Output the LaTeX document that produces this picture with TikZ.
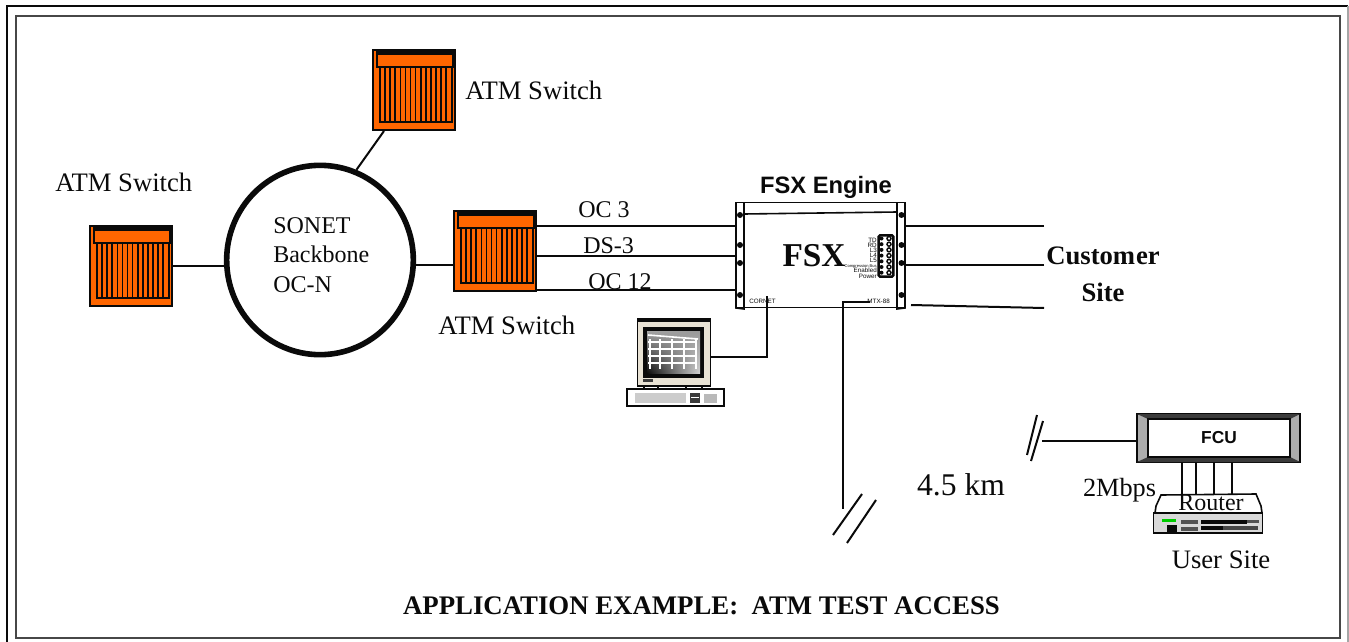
\documentclass[tikz,border=0pt]{standalone}
\usepackage{fontspec}
\usetikzlibrary{shapes.geometric,shadings}
\setmainfont{Liberation Serif}
\setsansfont{Liberation Sans}
\definecolor{ink}{RGB}{10,10,10}
\definecolor{switchorange}{RGB}{255,102,0}
\definecolor{bezel}{RGB}{232,226,212}
\tikzset{
  lbl/.style={inner sep=0pt, text=ink, font=\fontsize{20}{24}\selectfont},
  lblsmall/.style={inner sep=0pt, text=ink, font=\fontsize{18}{22}\selectfont},
  tiny/.style={inner sep=0pt, anchor=east, text=ink, font=\sffamily\fontsize{4.7}{5}\selectfont},
  wire/.style={ink, line width=1.5pt},
  switchbox/.style={draw=ink, fill=switchorange, line width=1.5pt, minimum width=61.5pt, minimum height=60pt, inner sep=0pt},
}
\begin{document}
\begin{tikzpicture}[x=0.75pt, y=-0.75pt]
  \useasboundingbox (0,0) rectangle (1349,642);
  % frames
  \draw[ink, line width=1pt] (7,642)--(7,6)--(1348,6);
  \draw[gray!70, line width=1pt] (1348,6)--(1348,642);
  \node[draw=ink!75, line width=1.2pt, minimum width=993pt, minimum height=466.5pt, inner sep=0pt] (frame) at (678,327) {};
  % 3 switches
  \foreach \name/\cx/\cy in {swtop/414/90, swleft/131/266, swmid/495/251}{
    \node[switchbox] (\name) at (\cx,\cy) {};
    \begin{scope}[shift={(\cx-41,\cy-40)}]
      \draw[ink, line width=1.4pt] (4,2) rectangle (80,17);
      \fill[ink] (5,2) rectangle (79,5);
      \draw[ink, line width=1.4pt] (7,17) rectangle (79,72);
      \foreach \k in {0,1,2,3,4,5,6,7,8,9,10,11,12}{
        \draw[ink, line width=1.2pt] (12+\k*5.1,17) -- (12+\k*5.1,72);
      }
    \end{scope}
  }
  % backbone
  \node[draw=ink, line width=4.2pt, ellipse, minimum width=140pt, minimum height=142pt, inner sep=0pt] (ring) at (320,260) {};
  \node[lblsmall, anchor=west, align=left, font=\fontsize{18}{22.2}\selectfont] (sonet) at (273,255) {SONET\\Backbone\\OC-N};
  \draw[wire] (swtop.south west) ++(12,0) coordinate (swtopfoot) -- (ring.68);
  \draw[wire] (swleft.east) -- (ring.west |- swleft.east);
  \draw[wire] (ring.east |- 0,265) -- (swmid.west |- 0,265);
  \node[lbl, anchor=west] (toplbl) at (465,90) {ATM Switch};
  \node[lbl, anchor=west] (leftlbl) at (55,182) {ATM Switch};
  \node[lbl, anchor=west] (midlbl) at (438,325) {ATM Switch};
  % FSX chassis
  \node[draw=ink, line width=1.2pt, fill=white, minimum width=127.5pt, minimum height=79pt, inner sep=0pt] (fsx) at (820.5,255) {};
  \draw[ink, line width=1.2pt] (744,202)--(744,309)--(736,308)--(736,202);
  \draw[ink, line width=1.2pt] (897,202)--(897,309)--(905,308)--(905,202);
  \draw[ink, line width=1.2pt] (744,214)--(897,212);
  \foreach \yy in {215,245,263,295}{
    \fill[ink] (740,\yy) circle (3);
    \fill[ink] (901.5,\yy) circle (3);
  }
  \node[inner sep=0pt, text=ink, font=\sffamily\bfseries\fontsize{17.8}{20}\selectfont] (fsxtitle) at (826,187) {FSX Engine};
  \node[inner sep=0pt, text=ink, font=\bfseries\fontsize{25}{28}\selectfont] (fsxname) at (814,256) {FSX};
  % indicator panel
  \node[draw=ink, line width=1.8pt, rounded corners=1pt, minimum width=11pt, minimum height=31pt, inner sep=0pt] (panel) at (886,256) {};
  \foreach \k in {0,1,2,3,4,5,6}{
    \fill[ink] (881.5,238.5+\k*5.7) circle (2);
    \draw[ink, line width=1.1pt] (889,238.5+\k*5.7) circle (2);
  }
  \foreach \t/\yy in {TD/240, RD/245, L3/250, L4/255, L5/260, Enabled/270.5, Power/276}{
    \node[tiny] at (877,\yy) {\t};
  }
  \node[tiny, font=\sffamily\fontsize{3.05}{4}\selectfont] (compbus) at (877,266) {Compression Bus};
  \node[tiny, anchor=west] (cornet) at (749,301.5) {CORNET};
  \node[tiny, anchor=east] (mtx) at (890,301.5) {MTX-88};
  % links OC / DS
  \foreach \name/\yy in {fsxa/226, fsxb/256, fsxc/290}{
    \coordinate (\name) at (736,\yy);
    \draw[wire] (swmid.east |- \name) -- (\name);
  }
  \node[lblsmall, anchor=west] (oc3) at (578,210) {OC 3};
  \node[lblsmall, anchor=west] (ds3) at (583,246) {DS-3};
  \node[lblsmall, anchor=west] (oc12) at (588,282) {OC 12};
  % customer side
  \coordinate (custa) at (1044,226);
  \coordinate (custb) at (1044,265);
  \coordinate (custc) at (1044,308);
  \coordinate (fsxd) at (911,305);
  \draw[wire] (custa) -- (905,226);
  \draw[wire] (custb) -- (905,265);
  \draw[wire] (custc) -- (fsxd);
  \node[inner sep=0pt, text=ink, align=center, font=\bfseries\fontsize{20}{27.5}\selectfont] (customer) at (1103,274) {Custom\hspace{0.6pt}er\\Site};
  % computer
  \node[draw=ink, line width=1.2pt, fill=bezel, minimum width=55pt, minimum height=50pt, inner sep=0pt] (monitor) at (674,352.5) {};
  \fill[ink] (637,319) rectangle (711,321.5);
  \fill[ink] (643,327) rectangle (704,378);
  \shade[upper left=gray!70, lower left=ink, upper right=gray!80, lower right=gray!35] (647,331) rectangle (700,373);
  \draw[white, line width=1.2pt] (648,335) -- (698,339);
  \foreach \yy in {342,349,356,363}{
    \draw[white, line width=0.9pt] (648,\yy) -- (697,\yy);
  }
  \foreach \xx in {650,660,672,684,696}{
    \draw[white, line width=0.9pt] (\xx,339) -- (\xx,369);
  }
  \fill[ink!80] (643,379) rectangle (653,382);
  \draw[ink, line width=1.4pt] (644,385) -- (644,389) (658,385) -- (658,389) (686,385) -- (686,389) (702,385) -- (702,389);
  \node[draw=ink, line width=1.2pt, fill=white, minimum width=73pt, minimum height=13pt, inner sep=0pt] (keyboard) at (675.5,397.5) {};
  \fill[gray!40] (635,393) rectangle (686,403);
  \fill[ink!80] (690,393) rectangle (700,403);
  \fill[white] (691,396.5) rectangle (699,398);
  \fill[gray!55] (704,394) rectangle (717,403);
  \draw[wire] (monitor.east |- 0,357) -| (767,296);
  % lead out to the slashes
  \draw[wire] (870,302) -| (843,509);
  \coordinate (brka) at (833,535);
  \coordinate (brkb) at (862,494);
  \coordinate (brkc) at (847,543);
  \coordinate (brkd) at (876,500);
  \draw[wire] (brka) -- (brkb);
  \draw[wire] (brkc) -- (brkd);
  \node[inner sep=0pt, text=ink, font=\fontsize{23.7}{28}\selectfont] (dist) at (961,485) {4.5 km};
  % FCU
  \node[draw=ink, line width=1.2pt, fill=gray!65, minimum width=122pt, minimum height=36pt, inner sep=0pt] (fcuframe) at (1218.5,438) {};
  \fill[ink!80] (1137,414) -- (1300,414) -- (1290,419) -- (1148,419) -- cycle;
  \fill[ink!80] (1137,462) -- (1300,462) -- (1290,457) -- (1148,457) -- cycle;
  \node[draw=ink, line width=1.2pt, fill=white, minimum width=106.5pt, minimum height=28.5pt, inner sep=0pt, font=\sffamily\bfseries\fontsize{13}{15}\selectfont, text=ink] (fcu) at (1219,438) {FCU};
  \coordinate (fculine) at (1042,441);
  \draw[wire] (fculine) -- (fculine -| fcuframe.west);
  \coordinate (slsa) at (1027,455);
  \coordinate (slsb) at (1037,415);
  \coordinate (slsc) at (1031,461);
  \coordinate (slsd) at (1043,421);
  \draw[wire] (slsa) -- (slsb);
  \draw[wire] (slsc) -- (slsd);
  % router
  \node[draw=ink, line width=1.2pt, fill=gray!30, minimum width=81.5pt, minimum height=15pt, inner sep=0pt] (routerbox) at (1208,523) {};
  \draw[ink, line width=1.2pt] (1155,513)--(1156,506)--(1161,495)--(1256,494)--(1261,506)--(1262,513);
  \fill[green!80!black] (1162,519) rectangle (1176,522);
  \fill[ink] (1167,525) rectangle (1177,532);
  \fill[ink!70] (1181,520) rectangle (1198,523.5);
  \fill[ink!70] (1181,526.5) rectangle (1198,531);
  \fill[ink] (1201,519.5) rectangle (1247,524);
  \fill[ink!70] (1247,520) rectangle (1259,523);
  \fill[ink] (1201,526) rectangle (1223,530);
  \fill[ink!75] (1223,526) rectangle (1258,530);
  \foreach \xx in {1182,1196,1214,1232}{
    \draw[ink, line width=1pt] (\xx,462) -- (\xx,495);
  }
  \node[lblsmall] (router) at (1211,503) {Router};
  \node[inner sep=0pt, text=ink, font=\fontsize{19.7}{24}\selectfont] (rate) at (1119.5,490) {2Mbps};
  \node[lbl] (usersite) at (1221,560) {User Site};
  % title
  \node[inner sep=0pt, text=ink, font=\bfseries\fontsize{20.1}{24}\selectfont] (title) at (701.5,606) {APPLICATION EXAMPLE:\ \ ATM TEST ACCESS};
\end{tikzpicture}
\end{document}
